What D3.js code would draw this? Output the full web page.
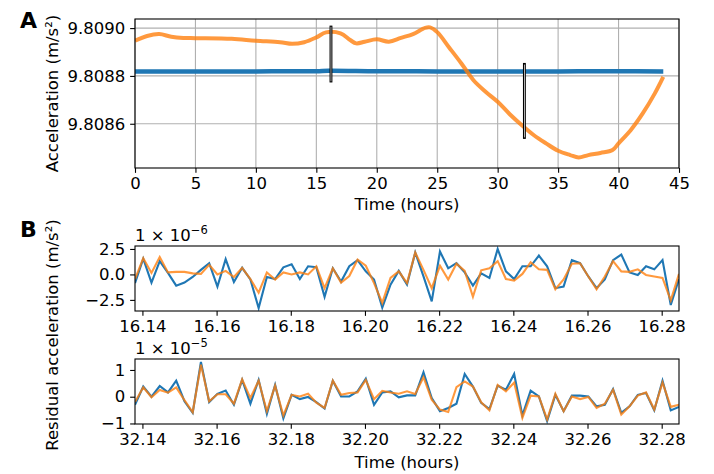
<!DOCTYPE html>
<html>
<head>
<meta charset="utf-8">
<script src="https://cdnjs.cloudflare.com/ajax/libs/d3/7.8.5/d3.min.js"></script>
<style>
body { margin: 0; background: #fff; }
text { font-family: "DejaVu Sans", sans-serif; fill: #000; }
</style>
</head>
<body>
<svg id="chart" width="714" height="474"></svg>
<script>
"use strict";

// ---- panel A: full record (hours, m/s^2) ----
var orangeTimesA = [0, 1, 2, 3, 4, 5, 8, 10, 12, 13, 14, 15, 15.8, 17, 17.8, 18.3, 19, 20, 21, 22, 23, 24, 24.4, 25,
    26, 27, 28, 29, 30, 31, 32, 33, 34, 35, 36, 36.7, 37.5, 38.5, 39.5, 40, 41, 42, 43, 43.7];
var orangeValuesA = [9.808947, 9.808967, 9.808975, 9.808964, 9.808959, 9.808958, 9.808955, 9.808947, 9.808941,
    9.808934, 9.808941, 9.808961, 9.808982, 9.808978, 9.808950, 9.808936, 9.808943, 9.808953, 9.808943, 9.808959,
    9.808975, 9.809001, 9.809003, 9.808983, 9.808918, 9.808852, 9.808782, 9.808734, 9.808692, 9.808640, 9.808594,
    9.808552, 9.808518, 9.808487, 9.808469, 9.808459, 9.808469, 9.808478, 9.808490, 9.808518, 9.808573, 9.808643,
    9.808727, 9.808796];
var blueTimesA = [0, 5, 10, 15, 16, 20, 25, 30, 35, 40, 43.7];
var blueValuesA = [9.808819, 9.808819, 9.808819, 9.808820, 9.808822, 9.808820, 9.808819, 9.808819, 9.808819, 9.808820, 9.808819];
var xTicksA = [0, 5, 10, 15, 20, 25, 30, 35, 40, 45];
var yTicksA = [9.8086, 9.8088, 9.8090];

// ---- panel B: residuals, 8 s samples, in units of the offset ----
var sampleStepHours = 8 / 3600;
var b1Start = 16.138;
var b2Start = 32.138;
var blueB1 = [-0.85, 1.55, -0.8, 1.3, 0.15, -1.1, -0.8, -0.25, 0.45, 1.1, -1.2, 1.5, -0.75, 0.65, -0.5, -3.3, -0.25,
    -0.45, 0.7, 1.0, -0.45, 0.8, 0.7, -2.2, 0.6, -0.7, 0.8, 1.4, 0.3, -0.5, -3.25, -1.0, 0.35, -1.0, 2.15, -0.2, -2.65,
    2.25, 0.6, 1.1, 0.2, -1.1, 0.1, -0.35, 2.5, 0.3, -0.45, 0.8, 0.8, 1.85, 0.8, -1.35, -1.2, 1.4, 1.1, -0.2, -1.35,
    -0.5, 1.4, 1.95, 0.2, -0.05, 0.8, 0.5, 1.4, -3.0, -0.45];
var orangeB1 = [-0.45, 1.6, 0.15, 1.7, 0.2, 0.25, 0.25, 0.1, 0.05, 0.95, 0.0, 0.35, -0.25, 0.65, -0.45, -1.8, 0.2,
    -0.5, 0.2, 0.0, 0.2, 0.0, 0.8, -1.35, 0.6, -0.8, -0.15, 1.45, 0.85, -0.85, -2.8, -0.35, 0.3, -0.85, 2.15, 0.45,
    -1.35, 0.85, -0.5, 1.05, 0.35, -2.2, 0.4, 0.6, 1.3, -0.45, -0.6, 0.05, 1.2, 0.5, 0.45, -1.45, -0.5, 1.05, 1.1,
    -0.2, -1.45, -0.2, 1.3, 0.3, 0.25, 0.5, -0.05, -0.2, -0.35, -2.55, 0.05];
var blueB2 = [-0.3, 0.38, 0.0, 0.4, 0.16, 0.6, -0.17, -0.6, 1.3, -0.2, 0.11, 0.23, -0.3, 0.63, -0.26, 0.63, -0.64,
    0.44, -0.81, 0.07, -0.09, -0.01, -0.2, -0.44, 0.6, 0.01, 0.01, 0.2, 0.67, -0.3, 0.16, 0.2, -0.02, 0.05, 0.05, 0.91,
    -0.05, -0.54, -0.42, -0.26, 0.85, 0.38, -0.23, -0.46, 0.41, 0.26, 0.85, -0.7, 0.23, 0.01, -0.91, 0.07, -0.54, 0.04,
    0.04, 0.01, -0.36, -0.3, 0.28, -0.6, -0.36, 0.07, 0.14, -0.51, 0.6, -0.51, -0.38];
var orangeB2 = [-0.2, 0.35, -0.02, 0.25, 0.15, 0.35, -0.13, -0.58, 1.2, -0.17, 0.09, 0.09, -0.26, 0.65, -0.05, 0.6,
    -0.54, 0.41, -0.7, 0.07, 0.01, 0.11, -0.22, -0.42, 0.6, 0.07, 0.14, 0.16, 0.63, -0.09, 0.22, 0.16, 0.11, 0.2, 0.1,
    0.73, -0.11, -0.48, -0.57, 0.36, 0.57, 0.38, -0.21, -0.51, 0.44, 0.2, 0.53, -0.79, 0.04, 0.01, -0.85, 0.11, -0.54,
    0.01, -0.09, -0.01, -0.42, -0.26, 0.26, -0.67, -0.36, 0.04, 0.16, -0.48, 0.53, -0.38, -0.3];
var xTicksB1 = [16.14, 16.16, 16.18, 16.20, 16.22, 16.24, 16.26, 16.28];
var xTicksB2 = [32.14, 32.16, 32.18, 32.20, 32.22, 32.24, 32.26, 32.28];
var yTicksB1 = [-2.5, 0.0, 2.5];
var yTicksB2 = [-1, 0, 1];

var blue = "#1f77b4";
var orange = "#ff7f0e";
var tickLen = 4.86;
var fontSize = 16.5;

var svg = d3.select("#chart");

function samples(start, values) {
    return values.map(function(v, i) { return {t: start + i * sampleStepHours, v: v}; });
}

function drawAxes(g, x, y, xTicks, yTicks, xFmt, yFmt, w, h, grid) {
    if (grid) {
        g.append("g").selectAll("line").data(xTicks).enter().append("line")
            .attr("x1", function(d) { return x(d); }).attr("x2", function(d) { return x(d); })
            .attr("y1", 0).attr("y2", h)
            .attr("stroke", "#b0b0b0").attr("stroke-width", 1.1);
        g.append("g").selectAll("line").data(yTicks).enter().append("line")
            .attr("y1", function(d) { return y(d); }).attr("y2", function(d) { return y(d); })
            .attr("x1", 0).attr("x2", w)
            .attr("stroke", "#b0b0b0").attr("stroke-width", 1.1);
    }
    var xa = g.append("g").attr("transform", "translate(0," + h + ")")
        .call(d3.axisBottom(x).tickValues(xTicks).tickFormat(xFmt).tickSize(tickLen).tickPadding(tickLen).tickSizeOuter(0));
    var ya = g.append("g")
        .call(d3.axisLeft(y).tickValues(yTicks).tickFormat(yFmt).tickSize(tickLen).tickPadding(tickLen).tickSizeOuter(0));
    [xa, ya].forEach(function(a) {
        a.select(".domain").remove();
        a.selectAll(".tick line").attr("stroke", "#000").attr("stroke-width", 1.1);
        a.selectAll(".tick text").attr("font-size", fontSize).attr("font-family", "DejaVu Sans");
    });
}

function frame(g, w, h) {
    g.append("rect").attr("width", w).attr("height", h)
        .attr("fill", "none").attr("stroke", "#000").attr("stroke-width", 1.1);
}

function minusFmt(f) {
    return function(d) { return f(d).replace("-", "\u2212"); };
}

// ---------------- Panel A ----------------
var A = {left: 135, top: 19, w: 544, h: 149};
var gA = svg.append("g").attr("transform", "translate(" + A.left + "," + A.top + ")");
var xA = d3.scaleLinear().domain([0, 45]).range([0, A.w]);
var yA = d3.scaleLinear().domain([9.808415, 9.809038]).range([A.h, 0]);

drawAxes(gA, xA, yA, xTicksA, yTicksA, d3.format("d"), d3.format(".4f"), A.w, A.h, true);

gA.append("clipPath").attr("id", "clipA").append("rect").attr("width", A.w).attr("height", A.h);
var lineA = d3.line().x(function(d) { return xA(d.t); }).y(function(d) { return yA(d.v); })
    .curve(d3.curveCatmullRom);

var blueA = blueTimesA.map(function(t, i) { return {t: t, v: blueValuesA[i]}; });
var orangeA = orangeTimesA.map(function(t, i) { return {t: t, v: orangeValuesA[i]}; });

gA.append("path").datum(blueA).attr("clip-path", "url(#clipA)")
    .attr("fill", "none").attr("stroke", blue).attr("stroke-width", 4.5).attr("d", lineA);
gA.append("path").datum(orangeA).attr("clip-path", "url(#clipA)")
    .attr("fill", "none").attr("stroke", orange).attr("stroke-opacity", 0.8)
    .attr("stroke-width", 4).attr("stroke-linejoin", "round").attr("d", lineA);

// zoom windows shown in panel B
var zoomBoxes = [
    {t0: b1Start, t1: b1Start + (blueB1.length - 1) * sampleStepHours, v0: 9.808775, v1: 9.809008},
    {t0: b2Start, t1: b2Start + (blueB2.length - 1) * sampleStepHours, v0: 9.808539, v1: 9.808852}
];
gA.selectAll(".zoombox").data(zoomBoxes).enter().append("rect")
    .attr("class", "zoombox")
    .attr("x", function(d) { return xA(d.t0); })
    .attr("width", function(d) { return xA(d.t1) - xA(d.t0); })
    .attr("y", function(d) { return yA(d.v1); })
    .attr("height", function(d) { return yA(d.v0) - yA(d.v1); })
    .attr("fill", "#fff").attr("stroke", "#000").attr("stroke-width", 1.1);

frame(gA, A.w, A.h);

svg.append("text").attr("x", 20).attr("y", 27.7).attr("font-size", 22).attr("font-weight", "bold").text("A");
svg.append("text").attr("x", A.left + A.w / 2).attr("y", 210).attr("text-anchor", "middle")
    .attr("font-size", fontSize).text("Time (hours)");
svg.append("text").attr("transform", "translate(58,93.5) rotate(-90)").attr("text-anchor", "middle")
    .attr("font-size", fontSize).text("Acceleration (m/s²)");

// ---------------- Panel B ----------------
function residualPanel(top, start, bl, or, xTicks, yTicks, yDomain, yFmt, exponent, clipId) {
    var P = {left: 135, top: top, w: 544, h: 65};
    var g = svg.append("g").attr("transform", "translate(" + P.left + "," + P.top + ")");
    var x = d3.scaleLinear().domain([start, start + (bl.length - 1) * sampleStepHours]).range([0, P.w]);
    var y = d3.scaleLinear().domain(yDomain).range([P.h, 0]);
    drawAxes(g, x, y, xTicks, yTicks, d3.format(".2f"), minusFmt(yFmt), P.w, P.h, false);

    g.append("clipPath").attr("id", clipId).append("rect").attr("width", P.w).attr("height", P.h);
    var line = d3.line().x(function(d) { return x(d.t); }).y(function(d) { return y(d.v); });
    g.append("path").datum(samples(start, bl)).attr("clip-path", "url(#" + clipId + ")")
        .attr("fill", "none").attr("stroke", blue).attr("stroke-width", 2.1).attr("d", line);
    g.append("path").datum(samples(start, or)).attr("clip-path", "url(#" + clipId + ")")
        .attr("fill", "none").attr("stroke", orange).attr("stroke-opacity", 0.8)
        .attr("stroke-width", 2.1).attr("d", line);
    frame(g, P.w, P.h);

    var off = g.append("text").attr("x", 0).attr("y", -5).attr("font-size", fontSize);
    off.append("tspan").text("1 \u00d7 10");
    off.append("tspan").attr("dy", -7).attr("font-size", 11.5).text(exponent);
    return P;
}

residualPanel(246, b1Start, blueB1, orangeB1, xTicksB1, yTicksB1, [-3.59, 2.79], d3.format(".1f"), "\u22126", "clipB1");
residualPanel(359, b2Start, blueB2, orangeB2, xTicksB2, yTicksB2, [-1.02, 1.41], d3.format("d"), "\u22125", "clipB2");

svg.append("text").attr("x", 20).attr("y", 237).attr("font-size", 22).attr("font-weight", "bold").text("B");
svg.append("text").attr("x", 135 + 272).attr("y", 468).attr("text-anchor", "middle")
    .attr("font-size", fontSize).text("Time (hours)");
svg.append("text").attr("transform", "translate(58,335) rotate(-90)").attr("text-anchor", "middle")
    .attr("font-size", fontSize).text("Residual acceleration (m/s²)");
</script>
</body>
</html>
